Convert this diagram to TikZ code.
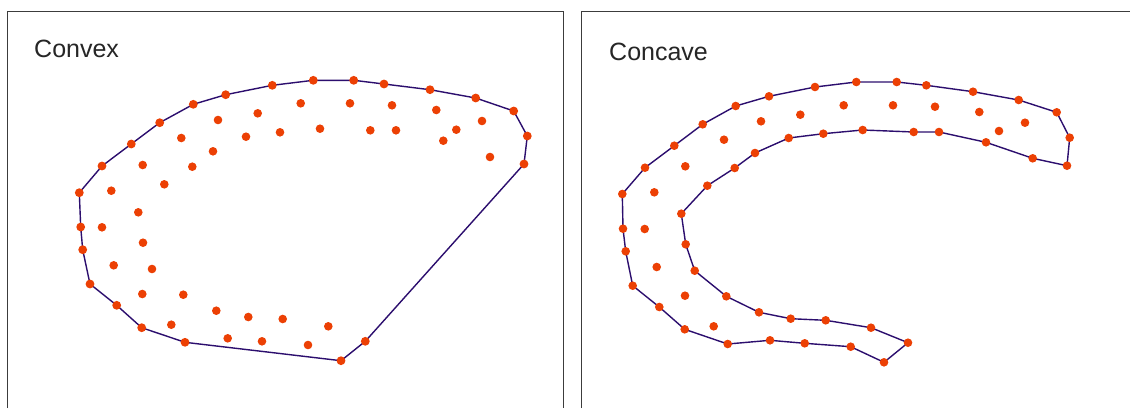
\documentclass[tikz,border=0pt]{standalone}
\usepackage{fontspec}
\newfontfamily\labelfont{Liberation Sans}
\definecolor{dotred}{RGB}{236,64,4}
\definecolor{hullblue}{RGB}{44,14,110}
\definecolor{framegray}{RGB}{60,60,60}
\tikzset{
  hull/.style={draw=hullblue, line width=1.4pt, line join=round},
  dot/.style={fill=dotred},
  panel/.style={draw=framegray, line width=0.9pt},
  title/.style={anchor=base west, inner sep=0pt, text=black!85,
                font=\labelfont\fontsize{25}{30}\selectfont}
}
\begin{document}
\begin{tikzpicture}[x=1pt, y=-1pt]
  \useasboundingbox (0,0) rectangle (1130,408);
  \fill[white] (0,0) rectangle (1130,408);
  % panel frames
  \draw[panel] (7,408) -- (7,11) -- (563,11) -- (563,408);
  \draw[panel] (581,408) -- (581,11) -- (1130,11);
  \node[title] (convex) at (34,57.5) {Convex};
  \node[title] (concave) at (609,60) {Concave};
  % convex hull
  \foreach \x/\y [count=\i] in {79.3/192.7, 102/166, 131.3/144, 159.7/122.7,
      193.3/104.3, 225.7/94.7, 272.3/85.3, 313.3/80.3, 353.7/80.3, 384/84,
      430/89.7, 475.7/98, 513.7/111, 527.3/136, 524/164, 365.3/341.3,
      341/360.7, 185/342.3, 141.7/327.7, 116.7/305.3, 90/284, 82.7/249.7,
      80.7/227}{
    \coordinate (cv\i) at (\x,\y);
  }
  \draw[hull] (cv1) foreach \i in {2,...,23}{ -- (cv\i) } -- cycle;
  \foreach \i in {1,...,23}{
    \fill[dot] (cv\i) circle (4.4pt);
  }
  \foreach \x/\y in {111.3/190.7, 142.7/165, 164.3/184.3, 181.3/138,
      192.3/166.7, 213/151.3, 218/120, 246/136.7, 257.7/113.3, 280/132.3,
      300.7/103.3, 320/128.7, 350/103.3, 370.3/130.3, 392/105.3, 396/130.3,
      436.3/110, 456.3/129.7, 443.3/140.7, 482/121, 490/157,
      138.3/212.3, 102/227.3, 143/242.7, 113.7/265.3, 152/269, 142.3/294,
      183.3/294.7, 216.3/310.7, 248.3/317, 282.7/319, 328.3/326.3,
      171.3/324.7, 227.7/338.3, 262/341.3, 308/345}{
    \fill[dot] (\x,\y) circle (4.3pt);
  }
  % concave hull
  \foreach \x/\y [count=\i] in {622.3/194, 645/167.7, 674.3/145.7,
      702.7/124.3, 735.7/106, 769/96.3, 815/87, 856.3/82, 896.7/82,
      926.3/85.3, 973/91.7, 1018.7/100, 1056.7/112.3, 1069.7/137.7,
      1067/165.7, 1032.7/158.3, 986/142.3, 939/132, 913.7/132, 862.7/130,
      823.3/133.7, 788.7/138, 755/153, 734.7/168, 707.3/185.7, 681.3/213.7,
      685.7/244.3, 694.7/270.7, 726.3/296.3, 759/312.3, 790.7/318.7,
      825.7/320.3, 871/327.7, 908/342.7, 884/362.3, 850.7/346.7,
      804.7/343.3, 770/340.3, 727.7/344, 684.7/329.3, 659.3/307,
      632.7/285.7, 625.7/251.3, 623/228.7}{
    \coordinate (cc\i) at (\x,\y);
  }
  \draw[hull] (cc1) foreach \i in {2,...,44}{ -- (cc\i) } -- cycle;
  \foreach \i in {1,...,44}{
    \fill[dot] (cc\i) circle (4.3pt);
  }
  \foreach \x/\y in {654.3/192.3, 685.3/166.3, 724/139.7, 761/121.3,
      800.3/114.7, 843.7/105.3, 893/105.3, 935/106.7, 979.3/112,
      1025/122.7, 999/131, 644.7/229, 656.7/267, 685/295.7, 713.7/326.3}{
    \fill[dot] (\x,\y) circle (4.3pt);
  }
\end{tikzpicture}
\end{document}
